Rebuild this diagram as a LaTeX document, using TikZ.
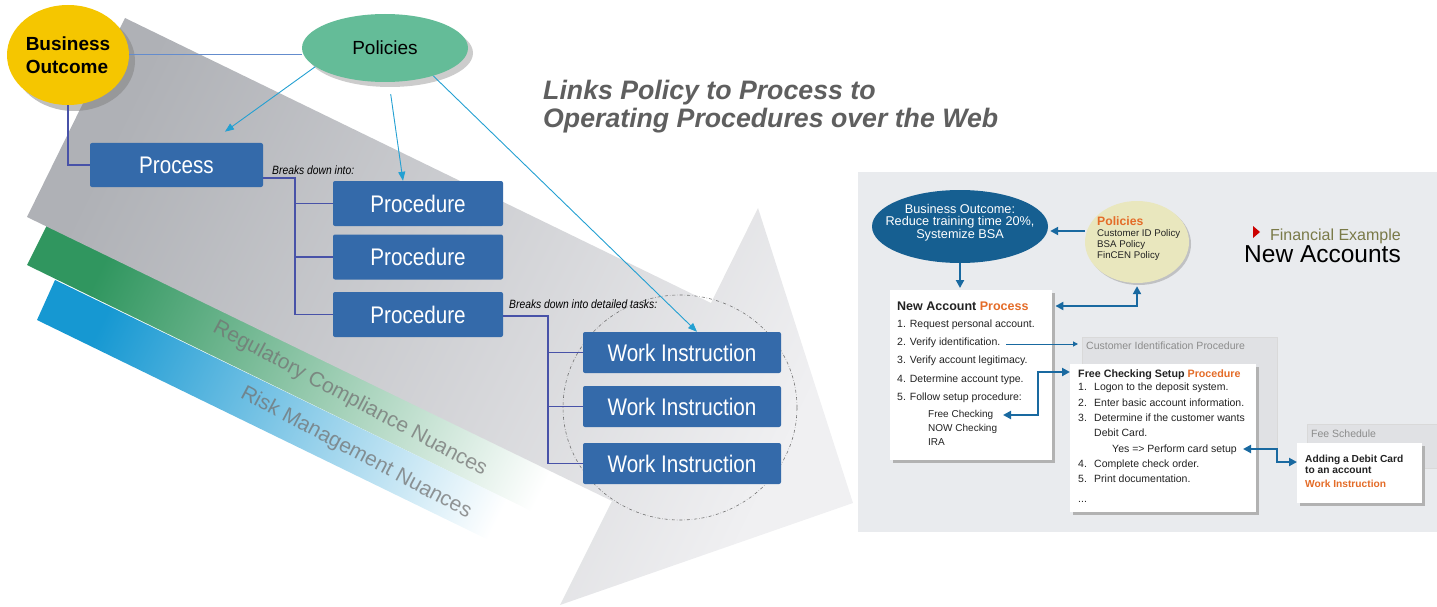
\documentclass[tikz,border=0pt]{standalone}
\usepackage{fontspec}
\setmainfont{Liberation Sans}
\newfontfamily\narrowfont[FakeStretch=0.86]{Liberation Sans}
\usetikzlibrary{arrows.meta,shapes.geometric,shadows}
\definecolor{bizyel}{RGB}{245,198,0}
\definecolor{polgrn}{RGB}{100,188,152}
\definecolor{boxblue}{RGB}{52,106,170}
\definecolor{treeblue}{RGB}{72,82,168}
\definecolor{arrcyan}{RGB}{35,160,210}
\definecolor{lnblue}{RGB}{100,140,205}
\definecolor{arrdark}{RGB}{175,177,182}
\definecolor{arrlight}{RGB}{240,240,242}
\definecolor{grn}{RGB}{48,150,95}
\definecolor{blu}{RGB}{22,152,210}
\definecolor{ttlgray}{RGB}{95,95,95}
\definecolor{panel}{RGB}{233,235,238}
\definecolor{cipfill}{RGB}{224,225,228}
\definecolor{rboblue}{RGB}{22,95,145}
\definecolor{rpolbeige}{RGB}{233,231,190}
\definecolor{orng}{RGB}{228,108,40}
\definecolor{olv}{RGB}{122,122,72}
\definecolor{rarrow}{RGB}{25,105,160}
\definecolor{txtdark}{RGB}{35,35,35}
\definecolor{cipgray}{RGB}{140,140,140}
\tikzset{ov/.append style={ellipse,inner sep=0pt}}
\tikzset{bx/.append style={fill=boxblue,text=white,rounded corners=2pt,inner sep=0pt,font=\narrowfont\fontsize{24}{24}\selectfont}}
\tikzset{tr/.append style={draw=treeblue,line width=1.1pt}}
\tikzset{lbl/.append style={inner sep=0pt,font=\narrowfont\itshape\fontsize{12}{12}\selectfont}}
\tikzset{ar/.append style={draw=arrcyan,line width=0.9pt,-{Triangle[length=9pt,width=7pt]}}}
\tikzset{bt/.append style={text=black!55,opacity=0.75,font=\fontsize{21}{21}\selectfont}}
\tikzset{wb/.append style={fill=white,inner sep=0pt,anchor=north west,drop shadow={shadow xshift=3pt,shadow yshift=-3pt,fill=black!30,opacity=1}}}
\tikzset{gb/.append style={fill=cipfill,draw=white!85!black,inner sep=0pt,anchor=north west}}
\tikzset{ra/.append style={draw=rarrow,line width=2pt,-{Triangle[length=8pt,width=8pt]}}}
\tikzset{rra/.append style={draw=rarrow,line width=2pt,{Triangle[length=8pt,width=8pt]}-{Triangle[length=8pt,width=8pt]}}}
\tikzset{rt/.append style={inner sep=0pt,text=txtdark,align=left}}

\begin{document}
\begin{tikzpicture}[x=1pt,y=-1pt]
\useasboundingbox (0,0) rectangle (1437,607);
% bands and arrow
\shade[left color=grn,middle color=grn!45!white,right color=white,shading angle=64]
  (47,225) -- (612,501) -- (592,541) -- (27,265) -- cycle;
\shade[left color=blu,middle color=blu!40!white,right color=white,shading angle=64]
  (55,280) -- (560,525) -- (542,566) -- (37,320) -- cycle;
\shade[left color=arrdark,right color=arrlight,shading angle=64]
  (125,18) -- (711,303) -- (758,208) -- (853,503) -- (560,605) -- (612,501) -- (27,217) -- cycle;
\node[bt,rotate=-28] (reg) at (350,399) {Regulatory Compliance Nuances};
\node[bt,rotate=-28] (risk) at (356,453) {Risk Management Nuances};
\draw[black!55,dash dot,line width=0.6pt] (680,407.5) ellipse (117pt and 112.5pt);

\node[ov,fill=bizyel,minimum width=122,minimum height=100,align=left,
  font=\bfseries\fontsize{19}{23}\selectfont,
  drop shadow={shadow xshift=6pt,shadow yshift=-6pt,fill=black!50,opacity=.5}] (bo) at (68,55) {Business\\Outcome};
\node[ov,fill=polgrn,minimum width=166,minimum height=68,font=\fontsize{19}{19}\selectfont,
  drop shadow={shadow xshift=5pt,shadow yshift=-5pt,fill=black!50,opacity=.4}] (pol) at (385,48) {Policies};
\node[bx,minimum width=173,minimum height=44] (process) at (176.5,165) {Process};
\node[bx,minimum width=170,minimum height=45] (p1) at (418,203.5) {Procedure};
\node[bx,minimum width=170,minimum height=45] (p2) at (418,257) {Procedure};
\node[bx,minimum width=170,minimum height=45] (p3) at (418,314.5) {Procedure};
\node[bx,minimum width=198,minimum height=41] (w1) at (682,352.5) {Work Instruction};
\node[bx,minimum width=198,minimum height=41] (w2) at (682,406.5) {Work Instruction};
\node[bx,minimum width=198,minimum height=41] (w3) at (682,463.5) {Work Instruction};

\draw[lnblue,line width=1pt] (bo.east) -- (bo.east -| pol.west);
\draw[tr] (bo.south) |- (process.west);
\coordinate (k1) at (295,178);
\draw[tr] ([yshift=-13pt]process.east) -- (k1) |- (p3.west);
\draw[tr] (k1 |- p1.west) -- (p1.west);
\draw[tr] (k1 |- p2.west) -- (p2.west);
\node[lbl,anchor=base west] (bd1) at (272,175) {Breaks down into:};
\coordinate (k2) at (548,316);
\draw[tr] (p3.east |- k2) -- (k2) |- (w3.west);
\draw[tr] (k2 |- w1.west) -- (w1.west);
\draw[tr] (k2 |- w2.west) -- (w2.west);
\node[lbl,anchor=base west] (bd2) at (509,308) {Breaks down into detailed tasks:};
\draw[ar,shorten >=19pt] (pol.195) -- ([xshift=33pt]process.north);
\draw[ar,shorten <=12pt] ([xshift=4pt]pol.south) -- ([xshift=-15pt]p1.north);
\draw[ar] (pol.-30) -- ([xshift=15pt]w1.north);

\node[anchor=north west,inner sep=0pt,align=left,text=ttlgray,
  font=\bfseries\itshape\fontsize{26.7}{27.5}\selectfont] (ttl) at (543,80) {Links Policy to Process to\\Operating Procedures over the Web};

% right panel
\fill[panel] (858,172) rectangle (1437,532);
\node[gb,minimum width=195,minimum height=111] (cip) at (1082,337) {};
\node[inner sep=0pt,anchor=base west,text=cipgray,font=\fontsize{10.5}{12}\selectfont] (cipt) at (1086,349) {Customer Identification Procedure};
\node[gb,minimum width=132,minimum height=44] (fee) at (1307,424) {};
\node[inner sep=0pt,anchor=base west,text=cipgray,font=\fontsize{10.5}{12}\selectfont] (feet) at (1311,437) {Fee Schedule};
\node[wb,minimum width=162,minimum height=170] (rproc) at (890,290) {};
\node[wb,minimum width=186,minimum height=148] (fcs) at (1070,364) {};
\node[wb,minimum width=125,minimum height=60] (adc) at (1297,443) {};
\node[ov,fill=rboblue,minimum width=176,minimum height=73] (rbo) at (960,226.5) {};
\node[ov,fill=rpolbeige,minimum width=104,minimum height=82,
  drop shadow={shadow xshift=2pt,shadow yshift=-2pt,fill=black!40,opacity=.5}] (rpol) at (1137,242) {};

\node[inner sep=0pt,align=center,text=white,font=\fontsize{12.7}{12.2}\selectfont] (rbot) at (960,222.7)
  {Business Outcome:\\Reduce training time 20\%,\\Systemize BSA};
\node[rt,anchor=north west,font=\fontsize{9.7}{11.2}\selectfont] (rpolt) at (1097,216.3)
  {{\bfseries\color{orng}\fontsize{12.2}{12}\selectfont Policies}\\Customer ID Policy\\BSA Policy\\FinCEN Policy};
\fill[red!80!black] (1253,226) -- (1260,232) -- (1253,238) -- cycle;
\node[inner sep=0pt,anchor=base east,text=olv,font=\fontsize{16}{16}\selectfont] (fin) at (1401,240) {Financial Example};
\node[inner sep=0pt,anchor=base east,font=\fontsize{24.5}{24}\selectfont] (nac) at (1401,262) {New Accounts};

\node[rt,anchor=base west,font=\bfseries\fontsize{12.5}{14}\selectfont] (rpt) at (897,310) {New Account \textcolor{orng}{Process}};
\node[rt,anchor=north west,font=\fontsize{10.5}{18.33}\selectfont] (rpl) at (897,319.5)
  {1. Request personal account.\\2. Verify identification.\\3. Verify account legitimacy.\\4. Determine account type.\\5. Follow setup procedure:};
\node[rt,anchor=north west,font=\fontsize{10}{13.67}\selectfont] (rps) at (928,410.5)
  {Free Checking\\NOW Checking\\IRA};
\node[rt,anchor=base west,font=\bfseries\fontsize{10.7}{12}\selectfont] (fct) at (1078,377) {Free Checking Setup \textcolor{orng}{Procedure}};
\node[rt,anchor=north west,font=\fontsize{10.5}{15.3}\selectfont] (fcl) at (1078,383)
  {\makebox[16pt][l]{1.}Logon to the deposit system.\\
   \makebox[16pt][l]{2.}Enter basic account information.\\
   \makebox[16pt][l]{3.}Determine if the customer wants\\
   \hspace*{16pt}Debit Card.\\
   \hspace*{34pt}Yes => Perform card setup\\
   \makebox[16pt][l]{4.}Complete check order.\\
   \makebox[16pt][l]{5.}Print documentation.\\[5pt]
   ...};
\node[rt,anchor=north west,font=\bfseries\fontsize{10.2}{11}\selectfont] (adct) at (1305,454.5)
  {Adding a Debit Card\\to an account\\[3pt]\textcolor{orng}{Work Instruction}};

\coordinate (vid) at (1006,344);
\coordinate (fck) at (1003,415);
\coordinate (ycs) at (1243,449);
\draw[ra,shorten >=2pt] ([yshift=11pt]rpol.west) -- ([yshift=11pt]rpol.west -| rbo.east);
\draw[ra,shorten >=2pt] (rbo.south) -- (rbo.south |- rproc.north);
\draw[rra,shorten <=3pt,shorten >=3pt] ([yshift=-16pt]rproc.north east) -| (rpol.south);
\draw[rarrow,line width=1pt,-{Triangle[length=5pt,width=5pt]},shorten >=4pt] (vid) -- (vid -| cip.west);
\draw[rra] (fck) -- ++(35,0) |- ([yshift=-8pt]fcs.north west);
\draw[rra] (ycs) -- ++(34,0) |- ([yshift=-19pt]adc.north west);
\end{tikzpicture}
\end{document}
